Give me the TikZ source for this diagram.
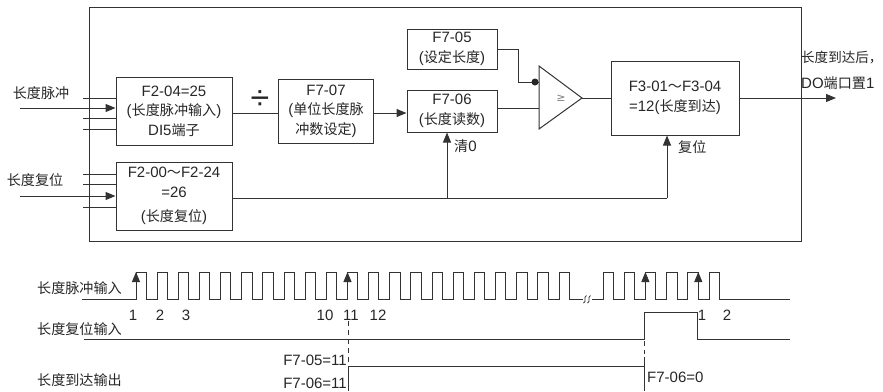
\documentclass[tikz,border=0pt]{standalone}
\usepackage{fontspec}
\setmainfont{Liberation Sans}
\newfontfamily\cjk{Noto Sans CJK SC}[Scale=0.94]
\newfontfamily\symf{DejaVu Sans}
\usetikzlibrary{arrows.meta}
\newcommand\zh[1]{{\cjk #1}}
\begin{document}
\begin{tikzpicture}[x=1bp,y=-1bp,
  every node/.style={text=black!85, font=\fontsize{15bp}{19.5bp}\selectfont, inner sep=0pt},
  blk/.style={draw=black!80, line width=1bp, align=center},
  wire/.style={draw=black!80, line width=1bp},
  arr/.style={wire, -{Triangle[length=10bp,width=8bp]}},
  dsh/.style={wire, dash pattern=on 5bp off 4bp},
  ]
\useasboundingbox (0,0) rectangle (883,391);

% outer frame
\draw[wire] (89,7) rectangle (801,241);

% boxes
\node[blk, minimum width=116bp, minimum height=68bp] (a) at (174,111) {F2-04=25\\(\zh{长度脉冲输入})\\DI5\zh{端子}};
\node[blk, minimum width=116bp, minimum height=68bp] (b) at (174,196) {F2-00\zh{～}F2-24\\=26\\[5bp](\zh{长度复位})};
\node[blk, minimum width=95bp, minimum height=64bp] (f7) at (326,111) {F7-07\\(\zh{单位长度脉}\\\zh{冲数设定})};
\node[blk, minimum width=90bp, minimum height=40bp] (f5) at (452,49) {F7-05\\(\zh{设定长度})};
\node[blk, minimum width=90bp, minimum height=42bp] (f6) at (452,111) {F7-06\\(\zh{长度读数})};
\node[blk, minimum width=128bp, minimum height=74bp] (f3) at (675,98) {F3-01\zh{～}F3-04\\=12(\zh{长度到达})};

% left labels and input stubs
\node (lp) at (41,93) {\zh{长度脉冲}};
\node (lr) at (35,180) {\zh{长度复位}};
\coordinate (p1) at (83,98);
\coordinate (p2) at (20,108);
\coordinate (p3) at (83,118);
\coordinate (p4) at (83,129);
\draw[wire] (p1) -- (p1 -| a.west);
\draw[arr] (p2) -- (p2 -| a.west);
\draw[wire] (p3) -- (p3 -| a.west);
\draw[wire] (p4) -- (p4 -| a.west);
\coordinate (r1) at (83,174);
\coordinate (r2) at (83,184);
\coordinate (r3) at (20,196);
\coordinate (r4) at (83,207);
\draw[wire] (r1) -- (r1 -| b.west);
\draw[wire] (r2) -- (r2 -| b.west);
\draw[arr] (r3) -- (r3 -| b.west);
\draw[wire] (r4) -- (r4 -| b.west);

% divide
\draw[wire] ([yshift=-2bp]a.east) -- ([yshift=-2bp]f7.west);
\node (div) at (260,100) {\fontsize{34bp}{34bp}\selectfont ÷};
\draw[arr] ([yshift=-2bp]f7.east) -- ([yshift=-2bp]f6.west);

% comparator
\coordinate (cL1) at (539,66);
\coordinate (cL2) at (539,129);
\coordinate (cA) at (582,98);
\draw[wire] (cL1) -- (cA) -- (cL2) -- cycle;
\node[text=black!50] (ge) at (561,98) {\symf\fontsize{11bp}{11bp}\selectfont ≥};
\coordinate (ci1) at (539,82);
\coordinate (ci2) at (539,108);
\coordinate (ck) at (518,82);
\draw[wire] (f5.east) -| (ck) -- (ci1);
\fill[black!85] (535,82) circle (3.5bp);
\draw[wire] (ci2 -| f6.east) -- (ci2);
\draw[wire] (cA) -- (cA -| f3.west);

% output
\coordinate (out) at (836,98);
\draw[arr] (f3.east) -- (out);
\node[anchor=west] (o1) at (801,57) {\fontsize{14.4bp}{15bp}\selectfont\zh{长度到达后，}};
\node[anchor=west] (o2) at (801,83) {DO\zh{端口置}1};

% reset
\coordinate (rj) at (667,198);
\coordinate (rb) at (447,198);
\draw[wire] (b.east |- rj) -- (rj);
\draw[arr] (rj) -- (rj |- f3.south);
\draw[arr] (rb) -- (rb |- f6.south);
\node[anchor=west] (clr) at (454,146) {\zh{清}0};
\node[anchor=west] (rst) at (678,147) {\zh{复位}};

% ---------- timing ----------
\node[anchor=west] (t1) at (37,288) {\zh{长度脉冲输入}};
\node[anchor=west] (t2) at (37,329) {\zh{长度复位输入}};
\node[anchor=west] (t3) at (37,380) {\zh{长度到达输出}};

\draw[wire] (82,299) \foreach \k in {0,...,20}{ -- ({136+21.15*\k},299) -- ++(0,-27) -- ++(10.3,0) -- ++(0,27)} -- (583,299);
\foreach \x in {585,589}{
  \draw[black!80, line width=0.8bp] (\x-1.5,303) .. controls (\x+1.8,302) and (\x-1.8,297) .. (\x+1.5,295.5);
}
\draw[wire] (592,299) \foreach \s in {603,624.2,645.4,666.6,687.8,709}{ -- (\s,299) -- ++(0,-27) -- ++(10.5,0) -- ++(0,27)} -- (790,299);
\foreach \x in {136,347.5,645.4,698.3}{
  \draw[arr] (\x,299) -- (\x,272);
}
\node (n1) at (133,315) {1};
\node (n2) at (160,315) {2};
\node (n3) at (186,315) {3};
\node (n10) at (325,315) {10};
\node (n11) at (351,315) {11};
\node (n12) at (378,315) {12};
\node (m1) at (702,315) {1};
\node (m2) at (727,315) {2};

\draw[wire] (84,339) -- (644,339) -- (644,312) -- (697,312) -- (697,339) -- (790,339);
\draw[wire] (348,391) -- (348,366) -- (644,366);
\draw[wire] (644,357) -- (644,391);
\draw[dsh] (348,321) -- (348,363);
\draw[dsh] (644,341) -- (644,354);

\node[anchor=east] (v1) at (347,360) {F7-05=11};
\node[anchor=east] (v2) at (347,383) {F7-06=11};
\node[anchor=west] (v3) at (647,377) {F7-06=0};
\end{tikzpicture}
\end{document}
